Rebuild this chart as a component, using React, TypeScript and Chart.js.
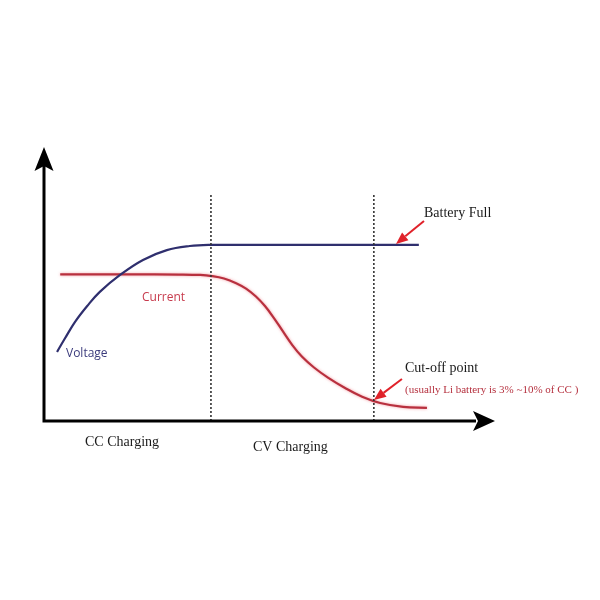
import React, { useEffect, useRef } from "react";
import { Chart, registerables } from "chart.js";

Chart.register(...registerables);

// Time (% of charge cycle) vs. relative level (%)
const voltageTime = [2.9, 4.7, 6.9, 9.6, 12.4, 16.9, 22.0, 27.3, 32.4, 36.9, 48.0, 62.0, 83.3];
const voltageLevel = [25.3, 30.4, 36.3, 42.1, 47.3, 53.5, 59.0, 62.6, 64.1, 64.5, 64.5, 64.5, 64.5];

const currentTime = [3.6, 19.1, 30.0, 34.7, 37.3, 40.0, 42.7, 44.9, 47.1, 49.1, 51.1, 53.1, 55.1, 57.3, 60.0, 63.1, 66.9, 70.7, 74.7, 79.8, 85.1];
const currentLevel = [53.7, 53.7, 53.65, 53.5, 53.1, 52.2, 50.5, 48.5, 45.6, 42.1, 37.7, 32.8, 28.0, 23.6, 19.6, 15.9, 12.1, 8.9, 6.6, 5.2, 4.8];

const phaseBoundaries = [37.1, 73.3];
const boundaryTop = 83.5;

const batteryFullPoint = { x: 78.0, y: 64.5 };
const cutoffPoint = { x: 73.1, y: 7.3 };

const phaseLabels = ["CC Charging", "CV Charging"];

const NAVY = "#2f2f6e";
const RED = "#b8303e";

function arrow(ctx: CanvasRenderingContext2D, fx: number, fy: number, tx: number, ty: number) {
  const ang = Math.atan2(ty - fy, tx - fx);
  const head = 12;
  const w = 5;
  const bx = tx - Math.cos(ang) * head;
  const by = ty - Math.sin(ang) * head;
  ctx.save();
  ctx.strokeStyle = "#e0222a";
  ctx.fillStyle = "#e0222a";
  ctx.lineWidth = 2;
  ctx.beginPath();
  ctx.moveTo(fx, fy);
  ctx.lineTo(bx, by);
  ctx.stroke();
  ctx.beginPath();
  ctx.moveTo(tx, ty);
  ctx.lineTo(bx + Math.sin(ang) * w, by - Math.cos(ang) * w);
  ctx.lineTo(bx - Math.sin(ang) * w, by + Math.cos(ang) * w);
  ctx.closePath();
  ctx.fill();
  ctx.restore();
}

const glowPlugin = {
  id: "glow",
  beforeDatasetDraw(chart: any, args: any) {
    const ds = chart.data.datasets[args.index];
    if (ds.label === "Current") {
      chart.ctx.save();
      chart.ctx.shadowColor = "rgba(235, 90, 100, 0.6)";
      chart.ctx.shadowBlur = 3;
    }
  },
  afterDatasetDraw(chart: any, args: any) {
    const ds = chart.data.datasets[args.index];
    if (ds.label === "Current") chart.ctx.restore();
  },
};

const decorPlugin = {
  id: "decor",
  afterDatasetsDraw(chart: any) {
    const { ctx, chartArea, scales } = chart;
    const { left, right, top, bottom } = chartArea;
    const xs = scales.x;
    const ys = scales.y;
    ctx.save();
    // axes
    ctx.strokeStyle = "#000";
    ctx.fillStyle = "#000";
    ctx.lineWidth = 3;
    ctx.beginPath();
    ctx.moveTo(left, bottom + 1.5);
    ctx.lineTo(left, top + 18);
    ctx.moveTo(left - 1.5, bottom);
    ctx.lineTo(right - 18, bottom);
    ctx.stroke();
    // y arrowhead
    ctx.beginPath();
    ctx.moveTo(left, top - 1);
    ctx.lineTo(left + 9.5, top + 23);
    ctx.lineTo(left, top + 18);
    ctx.lineTo(left - 9.5, top + 23);
    ctx.closePath();
    ctx.fill();
    // x arrowhead
    ctx.beginPath();
    ctx.moveTo(right + 1, bottom);
    ctx.lineTo(right - 21, bottom - 10);
    ctx.lineTo(right - 16, bottom);
    ctx.lineTo(right - 21, bottom + 10);
    ctx.closePath();
    ctx.fill();

    // series labels
    ctx.textBaseline = "middle";
    ctx.textAlign = "left";
    ctx.font = "12px 'Open Sans'";
    ctx.fillStyle = "#3b3b7c";
    ctx.fillText("Voltage", 66, 354);
    ctx.fillStyle = "#c73a4c";
    ctx.fillText("Current", 142, 298);

    // annotations
    ctx.fillStyle = "#1a1a1a";
    ctx.font = "14px 'Liberation Serif'";
    ctx.fillText("Battery Full", 424, 213);
    ctx.fillText("Cut-off point", 405, 368);
    ctx.fillStyle = "#b5303e";
    ctx.font = "11px 'Liberation Serif'";
    ctx.fillText("(usually Li battery is 3% ~10% of CC )", 405, 390);

    ctx.fillStyle = "#1a1a1a";
    ctx.font = "14px 'Liberation Serif'";
    ctx.fillText(phaseLabels[0], 85, 442);
    ctx.fillText(phaseLabels[1], 253, 447);

    const bf = { x: xs.getPixelForValue(batteryFullPoint.x), y: ys.getPixelForValue(batteryFullPoint.y) };
    arrow(ctx, bf.x + 29, bf.y - 24, bf.x + 1, bf.y - 1);
    const co = { x: xs.getPixelForValue(cutoffPoint.x), y: ys.getPixelForValue(cutoffPoint.y) };
    arrow(ctx, co.x + 29, co.y - 22, co.x + 1, co.y - 1);
    ctx.restore();
  },
};

export default function App() {
  const ref = useRef<HTMLCanvasElement | null>(null);
  useEffect(() => {
    if (!ref.current) return;
    const boundarySets = phaseBoundaries.map((b) => ({
      data: [
        { x: b, y: 0 },
        { x: b, y: boundaryTop },
      ],
      borderColor: "#333",
      borderWidth: 1.6,
      borderDash: [2, 2],
      pointRadius: 0,
      tension: 0,
    }));
    const chart = new Chart(ref.current, {
      type: "line",
      data: {
        datasets: [
          ...boundarySets,
          {
            label: "Voltage",
            data: voltageTime.map((t, i) => ({ x: t, y: voltageLevel[i] })),
            borderColor: NAVY,
            borderWidth: 2.2,
            pointRadius: 0,
            tension: 0.4,
          },
          {
            label: "Current",
            data: currentTime.map((t, i) => ({ x: t, y: currentLevel[i] })),
            borderColor: RED,
            borderWidth: 2.2,
            pointRadius: 0,
            tension: 0.4,
          },
        ] as any,
      },
      options: {
        animation: false,
        responsive: false,
        layout: { padding: { left: 44, right: 106, top: 148, bottom: 179 } },
        plugins: { legend: { display: false }, tooltip: { enabled: false } },
        scales: {
          x: { type: "linear", min: 0, max: 100, display: false },
          y: { type: "linear", min: 0, max: 100, display: false },
        },
      },
      plugins: [glowPlugin, decorPlugin],
    });
    return () => chart.destroy();
  }, []);
  return (
    <div style={{ position: "fixed", left: 0, top: 0, width: 600, height: 600, background: "#fff" }}>
      <canvas ref={ref} width={600} height={600} />
    </div>
  );
}
